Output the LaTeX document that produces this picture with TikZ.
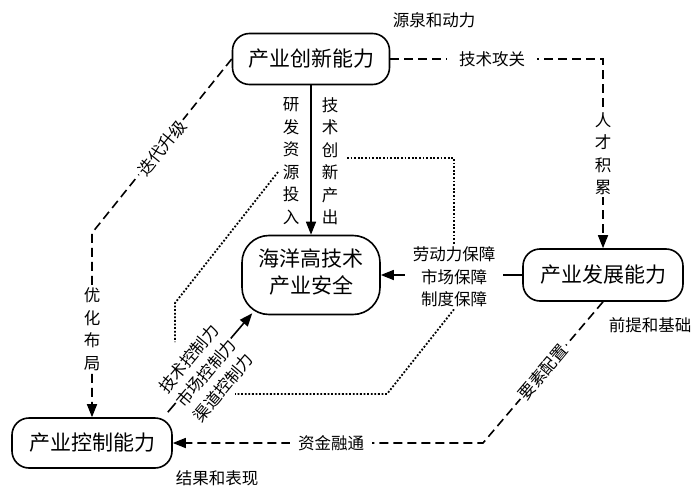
\documentclass[tikz,border=0pt]{standalone}
\usepackage{fontspec}
\newfontfamily\cjk{Noto Sans CJK SC}
\usetikzlibrary{arrows.meta,calc}
\begin{document}
\begin{tikzpicture}[x=1pt,y=-1pt,
  box/.style={draw,line width=1.6pt,rounded corners=17pt,minimum width=157pt,minimum height=51pt,inner sep=0pt,font=\cjk\fontsize{21}{27}\selectfont,align=center},
  lbl/.style={font=\cjk\fontsize{16.5}{22.5}\selectfont,align=center,inner sep=2pt},
  vlbl/.style={lbl,text width=17pt},
  tip/.style={-{Triangle[length=13pt,width=10pt]}},
  arr/.style={line width=1.6pt,tip},
  dashline/.style={line width=1.6pt,dash pattern=on 9pt off 5pt},
  dotline/.style={line width=1.8pt,dash pattern=on 1.8pt off 1.8pt},
  wb/.style={fill=white}
]
\useasboundingbox (0,0) rectangle (700,494);

% boxes
\node[box] (innov) at (311,59) {产业创新能力};
\node[box,minimum width=138pt,minimum height=79pt,rounded corners=27pt] (sec) at (311,275) {\raisebox{-3pt}{\begin{tabular}{@{}c@{}}海洋高技术\\产业安全\end{tabular}}};
\node[box,minimum width=160pt,minimum height=52pt] (dev) at (603,275) {产业发展能力};
\node[box,minimum width=160pt,minimum height=50pt] (ctrl) at (92,443) {产业控制能力};

% coordinates
\coordinate (k1) at (92,233);
\coordinate (k2) at (483,443);
\coordinate (d1s) at (347,158);
\coordinate (d2s) at (278,172);
\coordinate (d2k) at (175,303);
\coordinate (d2e) at (175,342);
\coordinate (d3k) at (387,394);
\coordinate (d3e) at (235,394);

% guarantee label (for anchors)
\node[lbl] (guar) at (454,277) {劳动力保障\\市场保障\\制度保障};

% connectors
\draw[arr] (innov.south) -- (sec.north);
\draw[dashline,tip] (innov.east) -| (dev.north);
\draw[dashline,tip] (innov.west) -- (k1) -- (ctrl.north);
\draw[arr] (dev.west) -- (sec.east);
\draw[arr] ([shift={(-5,-5)}]ctrl.north east) -- ([shift={(11,-2)}]sec.south west);
\draw[dashline,tip] (dev.south) -- (k2) -- (ctrl.east);
\draw[dotline] (d1s) -| (guar.north);
\draw[dotline] (d2s) -- (d2k) -- (d2e);
\draw[dotline] (guar.south) -- (d3k) -- (d3e);

% labels
\node[lbl,wb,inner xsep=8pt] (guar2) at (guar) {劳动力保障\\市场保障\\制度保障};
\node[vlbl] (rd) at (291,161) {研\\发\\资\\源\\投\\入};
\node[vlbl] (to) at (330,161) {技\\术\\创\\新\\产\\出};
\node[lbl,wb,inner xsep=12pt] (gg) at (492,59) {技术攻关};
\node[vlbl,wb] (rc) at (603,154) {人\\才\\积\\累};
\node[lbl,wb,rotate=51] (dd) at (162,148) {迭代升级};
\node[vlbl,wb] (yh) at (92,329) {优\\化\\布\\局};
\node[lbl,wb,rotate=50,inner sep=1pt] (kz) at (206,373) {技术控制力\\市场控制力\\渠道控制力};
\node[lbl,wb,rotate=50] (ys) at (543,372) {要素配置};
\node[lbl,wb,inner xsep=8pt] (zj) at (331,443) {资金融通};
\node[lbl] (yq) at (434,20) {源泉和动力};
\node[lbl] (qt) at (650,325) {前提和基础};
\node[lbl] (jg) at (217,478) {结果和表现};
\end{tikzpicture}
\end{document}
